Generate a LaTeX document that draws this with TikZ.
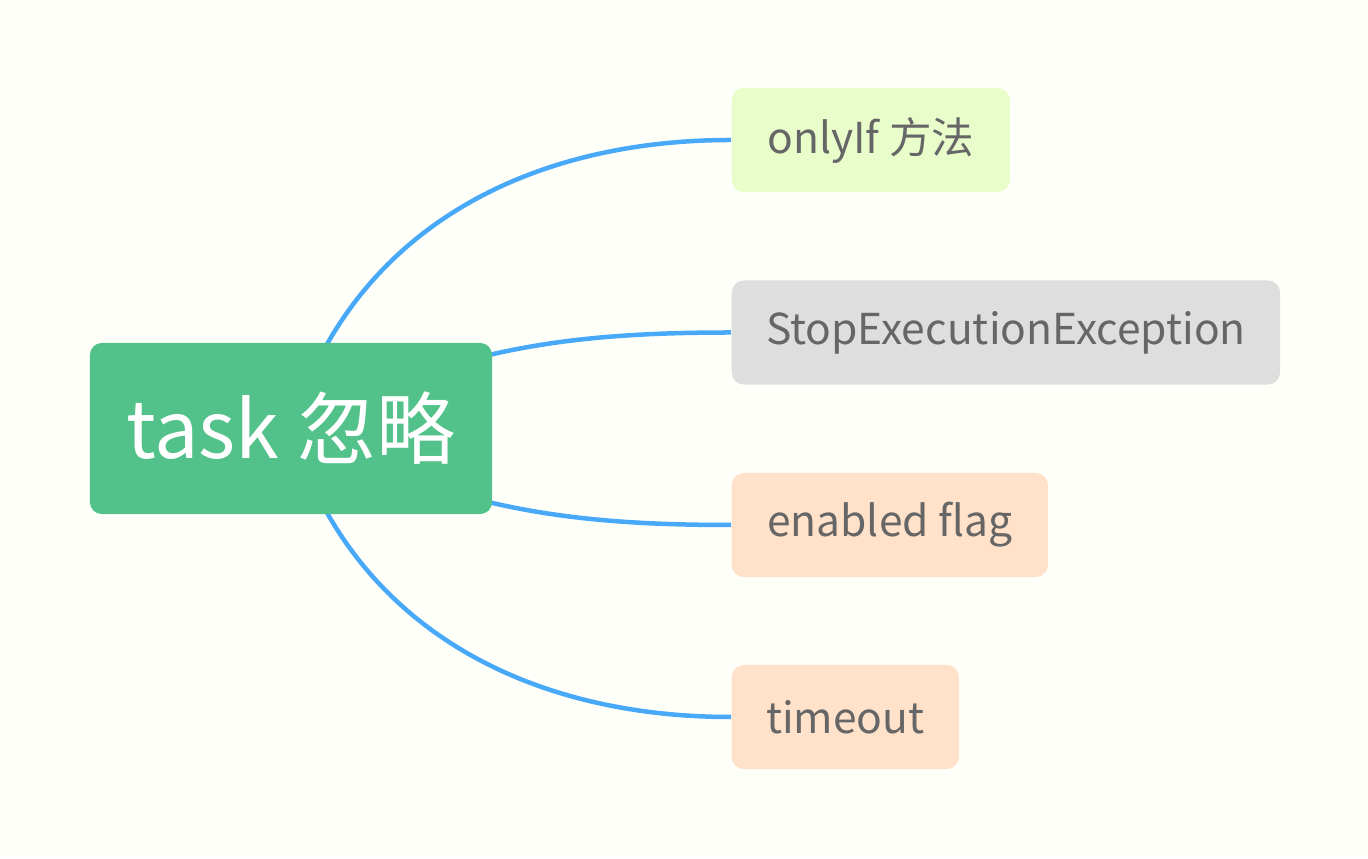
\documentclass[tikz,border=0pt]{standalone}
\usepackage{fontspec}
\newfontfamily\cjk{Noto Sans CJK SC}
\usetikzlibrary{positioning}
\usetikzlibrary{backgrounds}
\definecolor{rootgreen}{HTML}{52C28A}
\definecolor{leafgreen}{HTML}{E9FDCB}
\definecolor{leafgray}{HTML}{DEDEDE}
\definecolor{leaforange}{HTML}{FFE2C9}
\definecolor{linkblue}{HTML}{49A9F9}
\definecolor{textgray}{HTML}{666666}
\definecolor{paper}{HTML}{FFFFFA}

\begin{document}
\begin{tikzpicture}[x=0.01cm, y=0.01cm,
rootbox/.style={fill=rootgreen, rounded corners=0.12cm, text=white, font=\cjk\fontsize{22.5}{26}\selectfont, minimum width=4.02cm, minimum height=1.71cm},
leafbox/.style={rounded corners=0.12cm, text=textgray, font=\cjk\fontsize{12.1}{14}\selectfont, minimum height=1.04cm, anchor=west},
link/.style={linkblue, line width=0.045cm}]

\useasboundingbox (0,0) rectangle (1368,858);

% nodes
{
\node[rootbox] (root) at (291,429.5) {task 忽略};

\node[leafbox, fill=leafgreen, minimum width=2.78cm] (onlyif) at (731,718) {onlyIf 方法};
\node[leafbox, fill=leafgray, minimum width=5.48cm] (stopexc) at (731,525.5) {StopExecutionException};
\node[leafbox, fill=leaforange, minimum width=3.16cm] (enabled) at (731,333) {enabled flag};
\node[leafbox, fill=leaforange, minimum width=2.27cm] (timeout) at (731,141) {timeout};
}

%links
\begin{scope}[on background layer]
\fill[paper] (0,0) rectangle (1368,858);

\draw[link] (root.center) to[out=73, in=180] (onlyif.west);
\draw[link] (root.center) to[out=26, in=180] (stopexc.west);
\draw[link] (root.center) to[out=-26, in=180] (enabled.west);
\draw[link] (root.center) to[out=-73, in=180] (timeout.west);
\end{scope}

\end{tikzpicture}
\end{document}
